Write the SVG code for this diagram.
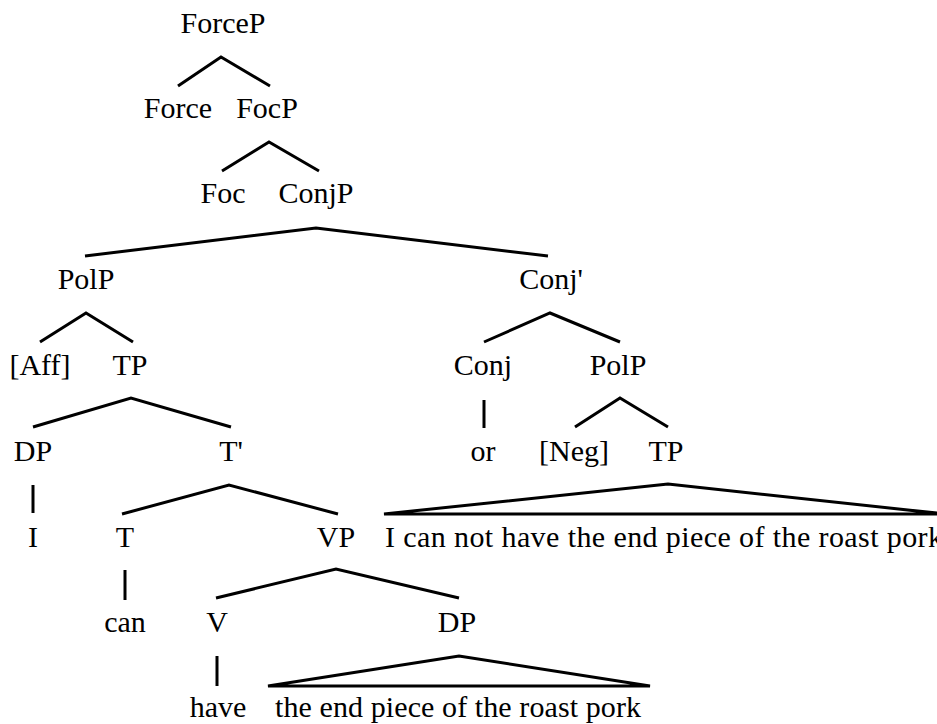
<svg xmlns="http://www.w3.org/2000/svg" width="937" height="724" viewBox="0 0 937 724">
<style>
text{font-family:'Liberation Serif','Times New Roman',serif;font-size:30px;fill:#000;text-anchor:middle}
.s{text-anchor:start}
.e{stroke:#000;stroke-width:3;fill:none;stroke-linejoin:miter}
</style>
<rect width="937" height="724" fill="#fff"/>
<g id="connectors">
<polyline class="e" points="178,86 221,57 270,86"/>
<polyline class="e" points="222,171 269,142 319,171"/>
<polyline class="e" points="85,256 316,228 548,256"/>
<polyline class="e" points="40,342 86,313 133,342"/>
<polyline class="e" points="484,342 550,313 620,342"/>
<polyline class="e" points="33,427 131,398 231,427"/>
<line class="e" x1="484" y1="400" x2="484" y2="428"/>
<polyline class="e" points="575,427 620,398 668,427"/>
<line class="e" x1="33" y1="485" x2="33" y2="513"/>
<polyline class="e" points="122,514 229,485 338,514"/>
<polygon class="e" points="384,514 668,484 945,514"/>
<line class="e" x1="125" y1="570" x2="125" y2="600"/>
<polyline class="e" points="216,598 336,569 459,598"/>
<line class="e" x1="217" y1="656" x2="217" y2="686"/>
<polygon class="e" points="268,686 459,656 650,686"/>
</g>
<g id="n-forcep"><text x="223" y="33">ForceP</text></g>
<g id="n-force"><text x="178" y="118">Force</text></g>
<g id="n-focp"><text x="267" y="118">FocP</text></g>
<g id="n-foc"><text x="223" y="203">Foc</text></g>
<g id="n-conjp"><text x="316" y="203">ConjP</text></g>
<g id="n-polp1"><text x="86" y="289">PolP</text></g>
<g id="n-conjbar"><text x="551" y="289">Conj'</text></g>
<g id="n-aff"><text x="40" y="375">[Aff]</text></g>
<g id="n-tp1"><text x="130" y="375">TP</text></g>
<g id="n-conj"><text x="483" y="375">Conj</text></g>
<g id="n-polp2"><text x="618" y="375">PolP</text></g>
<g id="n-dp1"><text x="33" y="461">DP</text></g>
<g id="n-tbar"><text x="231" y="461">T'</text></g>
<g id="n-or"><text x="483" y="461">or</text></g>
<g id="n-neg"><text x="574" y="461">[Neg]</text></g>
<g id="n-tp2"><text x="666" y="461">TP</text></g>
<g id="n-i"><text x="33" y="547">I</text></g>
<g id="n-t"><text x="125" y="547">T</text></g>
<g id="n-vp"><text x="336" y="547">VP</text></g>
<g id="n-tp2-yield"><text class="s" x="385" y="547" textLength="558" lengthAdjust="spacing">I can not have the end piece of the roast pork</text></g>
<g id="n-can"><text x="125" y="632">can</text></g>
<g id="n-v"><text x="217" y="632">V</text></g>
<g id="n-dp2"><text x="457" y="632">DP</text></g>
<g id="n-have"><text x="218" y="717">have</text></g>
<g id="n-dp2-yield"><text class="s" x="275" y="717" textLength="366" lengthAdjust="spacing">the end piece of the roast pork</text></g>
</svg>
